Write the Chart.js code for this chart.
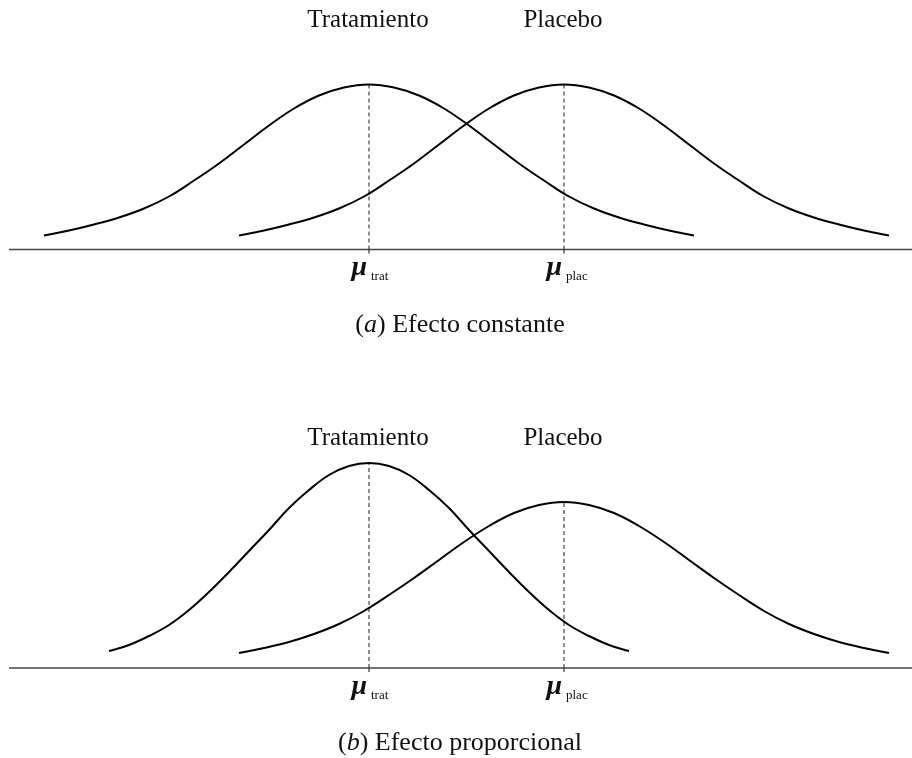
<!DOCTYPE html>
<html><head><meta charset="utf-8">
<script src="https://cdn.jsdelivr.net/npm/chart.js@4.4.0/dist/chart.umd.min.js"></script>
<style>html,body{margin:0;padding:0;background:#fff;overflow:hidden;} canvas{display:block;}</style>
</head><body>
<canvas id="ca" width="912" height="419"></canvas>
<canvas id="cb" width="912" height="339"></canvas>
<script>
// ---- data ----
const groupLabels = ['Tratamiento', 'Placebo'];
const meanSubs = ['trat', 'plac'];
const means = [369, 564];

// Panel (a): constant effect
const peaksA = [165, 165];
const xTratA = [44,69,94,119,144,169,194,219,244,269,294,319,344,369,394,419,444,469,494,519,544,569,594,619,644,669,694];
const yTratA = [14,19,25,32,41,53,69,86,105,124,141,154,162,165,162,154,141,124,105,86,69,53,41,32,25,19,14];
const xPlacA = [239,264,289,314,339,364,389,414,439,464,489,514,539,564,589,614,639,664,689,714,739,764,789,814,839,864,889];
const yPlacA = [14,19,25,32,41,53,69,86,105,124,141,154,162,165,162,154,141,124,105,86,69,53,41,32,25,19,14];

// Panel (b): proportional effect
const peaksB = [205, 166];
const xTratB = [109,129,149,169,189,209,229,249,269,289,309,329,349,369,389,409,429,449,469,489,509,529,549,569,589,609,629];
const yTratB = [17,23,32,43,58,76,96,117,138,160,178,193,202,205,202,193,178,160,138,117,96,76,58,43,32,23,17];
const xPlacB = [239,264,289,314,339,364,389,414,439,464,489,514,539,564,589,614,639,664,689,714,739,764,789,814,839,864,889];
const yPlacB = [15,20,26,34,44,57,73,90,108,126,142,155,163,166,163,155,142,126,108,90,73,57,44,34,26,20,15];

const captionA = ['(', 'a', ') Efecto constante'];
const captionB = ['(', 'b', ') Efecto proporcional'];

// ---- drawing ----
const SERIF = '"Liberation Serif", "Times New Roman", serif';

const annotPlugin = {
  id: 'annot',
  beforeDatasetsDraw(chart) {
    const ctx = chart.ctx;
    const y0 = chart.scales.y.getPixelForValue(0);
    ctx.save();
    ctx.strokeStyle = '#444';
    ctx.lineWidth = 1.5;
    ctx.beginPath();
    ctx.moveTo(chart.chartArea.left - 1, y0);
    ctx.lineTo(chart.width, y0);
    ctx.stroke();
    ctx.restore();
  },
  afterDatasetsDraw(chart) {
    const ctx = chart.ctx;
    const xs = chart.scales.x;
    const y0 = chart.scales.y.getPixelForValue(0);
    const cfg = chart.options.plugins.annot;
    ctx.save();
    means.forEach((m, i) => {
      const px = xs.getPixelForValue(m);
      ctx.strokeStyle = '#333';
      ctx.lineWidth = 1.2;
      ctx.beginPath();
      ctx.moveTo(px, y0);
      ctx.lineTo(px, y0 + 4);
      ctx.stroke();
      ctx.fillStyle = '#111';
      ctx.font = '25px ' + SERIF;
      ctx.textAlign = 'center';
      ctx.textBaseline = 'alphabetic';
      ctx.fillText(groupLabels[i], px - 1, y0 - 223);
      ctx.font = 'italic bold 28px ' + SERIF;
      ctx.textAlign = 'right';
      ctx.fillText('\u03BC', px - 2, y0 + 25.5);
      ctx.font = '13px ' + SERIF;
      ctx.textAlign = 'left';
      ctx.fillText(meanSubs[i], px + 2, y0 + 30.5);
    });
    const parts = cfg.caption;
    const fonts = ['26px ' + SERIF, 'italic 26px ' + SERIF, '26px ' + SERIF];
    let total = 0;
    const widths = parts.map((p, k) => { ctx.font = fonts[k]; const w = ctx.measureText(p).width; total += w; return w; });
    let cx = xs.getPixelForValue(460) - total / 2;
    ctx.textAlign = 'left';
    ctx.fillStyle = '#111';
    parts.forEach((p, k) => { ctx.font = fonts[k]; ctx.fillText(p, cx, y0 + 82); cx += widths[k]; });
    ctx.restore();
  }
};

function curve(xArr, yArr) {
  return {
    data: xArr.map((x, i) => ({ x: x, y: yArr[i] })),
    borderColor: '#000', borderWidth: 2, pointRadius: 0,
    tension: 0.4, fill: false, clip: false
  };
}
function dashed(x, peak) {
  return {
    data: [{ x: x, y: 0 }, { x: x, y: peak }],
    borderColor: '#444', borderWidth: 1.2, borderDash: [4, 3],
    pointRadius: 0, fill: false, clip: false
  };
}

function makeChart(id, padBottom, yMax, sets, peaks, caption) {
  return new Chart(document.getElementById(id), {
    type: 'line',
    data: {
      datasets: [
        curve(sets[0][0], sets[0][1]),
        curve(sets[1][0], sets[1][1]),
        dashed(means[0], peaks[0]),
        dashed(means[1], peaks[1])
      ]
    },
    options: {
      responsive: false, animation: false, events: [],
      layout: { padding: { left: 10, right: 2, top: 0, bottom: padBottom } },
      plugins: { legend: { display: false }, tooltip: { enabled: false }, annot: { caption: caption } },
      scales: {
        x: { type: 'linear', min: 10, max: 910, display: false },
        y: { min: 0, max: yMax, display: false }
      }
    },
    plugins: [annotPlugin]
  });
}

makeChart('ca', 169.5, 249.5, [[xTratA, yTratA], [xPlacA, yPlacA]], peaksA, captionA);
makeChart('cb', 90, 249, [[xTratB, yTratB], [xPlacB, yPlacB]], peaksB, captionB);
</script>
</body></html>
